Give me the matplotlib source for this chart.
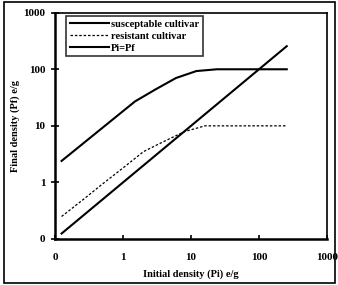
import numpy as np
from matplotlib import pyplot as plt
from matplotlib.patches import Rectangle

###########################################
#               Data
###########################################
pi_sus = [0.125, 1.5, 3, 6, 12, 24, 48, 96, 256]
pf_sus = [2.4, 27, 44, 70, 93, 100, 100, 100, 100]

pi_res = [0.125, 0.25, 0.5, 1, 2, 4, 8, 16, 32, 64, 128, 256]
pf_res = [0.25, 0.48, 0.94, 1.8, 3.5, 5.3, 7.9, 10, 10, 10, 10, 10]

pi_eq = [0.125, 0.25, 0.5, 1, 2, 4, 8, 16, 32, 64, 128, 256]
pf_eq = [0.125, 0.25, 0.5, 1, 2, 4, 8, 16, 32, 64, 128, 256]

ticks = [0.1, 1, 10, 100, 1000]
tick_labels = ['0', '1', '10', '100', '1000']

###########################################
#               Plot
###########################################
plt.rcParams['font.family'] = ['Liberation Serif', 'DejaVu Serif']
plt.rcParams['font.weight'] = 'bold'

fig = plt.figure(figsize=(3.38, 2.85), dpi=100)
ax = fig.add_axes([55/338, 1 - 239/285, (327 - 55)/338, (239 - 12.7)/285])

ax.plot(pi_sus, pf_sus, color='black', lw=1.5, label='susceptable cultivar')
ax.plot(pi_res, pf_res, color='black', lw=0.9, linestyle=(0, (2, 1.5)), label='resistant cultivar')
ax.plot(pi_eq, pf_eq, color='black', lw=1.5, label='Pi=Pf')

ax.set_xscale('log')
ax.set_yscale('log')
ax.set_xlim(0.1, 1000)
ax.set_ylim(0.1, 1000)
ax.set_xticks(ticks)
ax.set_xticklabels(tick_labels)
ax.set_yticks(ticks)
ax.set_yticklabels(tick_labels)
ax.minorticks_off()
ax.tick_params(axis='x', direction='in', length=3, width=1.2, pad=10, labelsize=8)
ax.tick_params(axis='y', direction='inout', length=6, width=1.2, pad=4, labelsize=8)

ax.spines['left'].set_linewidth(1.8)
ax.spines['bottom'].set_linewidth(1.8)
ax.spines['top'].set_linewidth(1.2)
ax.spines['right'].set_linewidth(1.2)

ax.set_xlabel('Initial density (Pi) e/g', fontsize=7.5, fontweight='bold')
ax.set_ylabel('Final density (Pf) e/g', fontsize=7.5, fontweight='bold')
ax.xaxis.set_label_coords(0.5, -0.133)
ax.yaxis.set_label_coords(-0.13, 0.5)

leg = ax.legend(loc='upper left', bbox_to_anchor=(0.04, 0.985), fontsize=7.5, frameon=True,
                fancybox=False, edgecolor='black', borderpad=0.35, labelspacing=0.25,
                handlelength=3.8, handletextpad=0.2, borderaxespad=0)
leg.get_frame().set_linewidth(1.2)

# outer border round the whole figure
fig.patches.append(Rectangle((4/338, 2/285), 331/338, 281/285, transform=fig.transFigure,
                             fill=False, edgecolor='black', lw=1.2))

plt.savefig('out.png', dpi=100)
